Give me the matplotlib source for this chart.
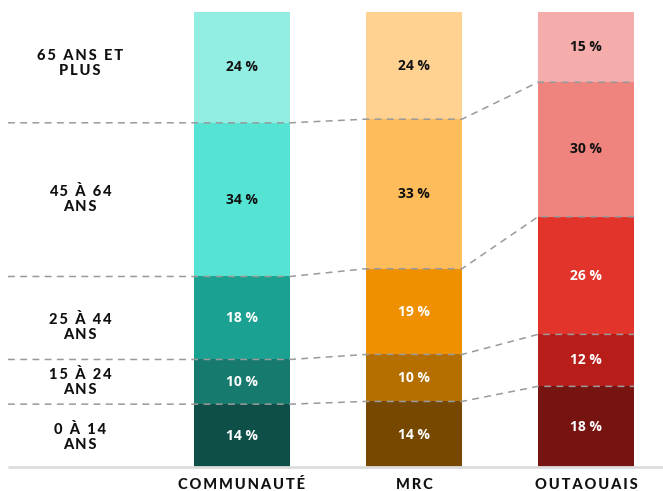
import matplotlib
matplotlib.use("Agg")
import matplotlib.pyplot as plt
import numpy as np

# ---- data ----
groups = ["0 À 14\nANS", "15 À 24\nANS", "25 À 44\nANS", "45 À 64\nANS", "65 ANS ET\nPLUS"]
regions = ["COMMUNAUTÉ", "MRC", "OUTAOUAIS"]
communaute = [14.0, 9.8, 18.2, 33.7, 24.3]
mrc = [14.6, 10.3, 18.8, 32.8, 23.5]
outaouais = [17.9, 11.4, 25.8, 29.5, 15.4]
labels_communaute = ["14 %", "10 %", "18 %", "34 %", "24 %"]
labels_mrc = ["14 %", "10 %", "19 %", "33 %", "24 %"]
labels_outaouais = ["18 %", "12 %", "26 %", "30 %", "15 %"]

colors = [
    ["#0e5048", "#167a6f", "#1ba191", "#55e3d3", "#92ede3"],
    ["#774800", "#b56e00", "#ef9000", "#ffbc5b", "#ffd292"],
    ["#761411", "#b81e19", "#e3342b", "#ef837d", "#f4adaa"],
]
text_colors = ["white", "white", "white", "#111111", "#111111"]

series = [communaute, mrc, outaouais]
series_labels = [labels_communaute, labels_mrc, labels_outaouais]

def spaced(s, sep="\u2009"):
    return "\n".join(sep.join(list(line)) for line in s.split("\n"))

W, H = 663, 491
fig = plt.figure(figsize=(W / 100, H / 100), dpi=100)
px_per_x = 172.0
x0_px = 242.0
bottom_px, top_px = 468.0, 12.0
ax = fig.add_axes([0, (H - bottom_px) / H, 1, (bottom_px - top_px) / H])
ax.set_xlim(-x0_px / px_per_x, (W - x0_px) / px_per_x)
ax.set_ylim(0, 100)
ax.axis("off")

bw = 96 / px_per_x
xs = np.arange(len(regions))
cums = []
for i, vals in enumerate(series):
    bottoms = np.concatenate([[0], np.cumsum(vals)[:-1]])
    cums.append(np.cumsum(vals))
    ax.bar(xs[i], vals, bottom=bottoms, width=bw, color=colors[i], zorder=2)
    for j, v in enumerate(vals):
        ax.text(xs[i], bottoms[j] + v / 2, series_labels[i][j], ha="center", va="center",
                color=text_colors[j], fontsize=10, fontweight="bold",
                family="Open Sans", zorder=4)

# dashed connectors
x_left = (8 - x0_px) / px_per_x
for k in range(len(groups) - 1):
    px = [x_left, xs[0] + bw / 2, xs[1] - bw / 2, xs[1] + bw / 2, xs[2] - bw / 2, xs[2] + bw / 2]
    py = [cums[0][k], cums[0][k], cums[1][k], cums[1][k], cums[2][k], cums[2][k]]
    ax.plot(px, py, color="#9a9a9a", lw=1.1, dashes=(4.5, 3.5), zorder=3, clip_on=False)

# baseline
ax.plot([(8 - x0_px) / px_per_x, (W - x0_px) / px_per_x], [0.2, 0.2], color="#dddddd",
        lw=2, zorder=5, clip_on=False, solid_capstyle="butt")

# left group labels
lab_font = dict(family=["Lato", "DejaVu Sans"], fontweight="black", color="#111111")
x_lab = (80 - x0_px) / px_per_x
bottoms0 = np.concatenate([[0], np.cumsum(communaute)[:-1]])
offsets = [-0.3, -0.1, -2.0, 0.1, 0.8]
for j, g in enumerate(groups):
    ax.text(x_lab, bottoms0[j] + communaute[j] / 2 + offsets[j], spaced(g), ha="center", va="center",
            fontsize=10.5, linespacing=1.1, clip_on=False, **lab_font)

# category labels
for i, r in enumerate(regions):
    ax.text(xs[i], -3.7, spaced(r), ha="center", va="center", fontsize=10.5,
            clip_on=False, **lab_font)

fig.savefig("out.png", dpi=100)
